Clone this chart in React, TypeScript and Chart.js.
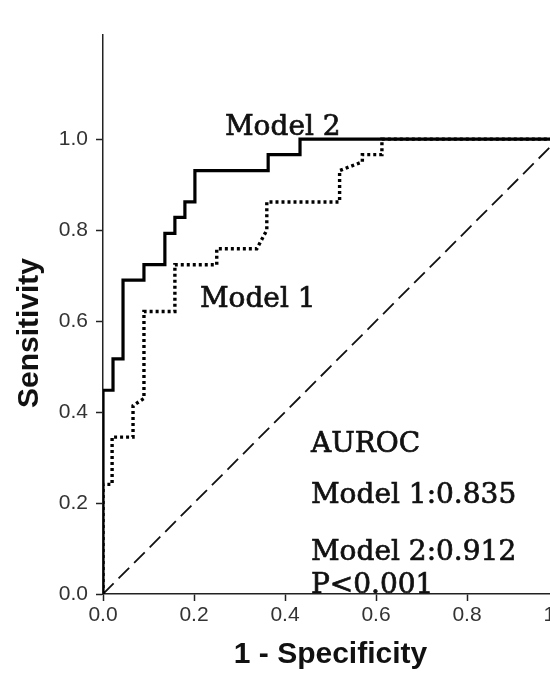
import React, { useEffect, useRef } from "react";
import { Chart, registerables } from "chart.js";

Chart.register(...registerables);

// ROC curve vertices (1 - specificity, sensitivity)
const MODEL1_FPR = [0, 0, 0.02, 0.02, 0.066, 0.066, 0.09, 0.09, 0.158, 0.158, 0.25, 0.25, 0.338, 0.36, 0.36, 0.52, 0.52, 0.57, 0.57, 0.613, 0.613, 1];
const MODEL1_TPR = [0, 0.241, 0.241, 0.345, 0.345, 0.414, 0.43, 0.621, 0.621, 0.724, 0.724, 0.759, 0.759, 0.8, 0.862, 0.862, 0.931, 0.95, 0.966, 0.966, 1, 1];

const MODEL2_FPR = [0, 0, 0.022, 0.022, 0.044, 0.044, 0.09, 0.09, 0.136, 0.136, 0.158, 0.158, 0.18, 0.18, 0.202, 0.202, 0.363, 0.363, 0.433, 0.433, 1];
const MODEL2_TPR = [0, 0.448, 0.448, 0.517, 0.517, 0.69, 0.69, 0.724, 0.724, 0.793, 0.793, 0.828, 0.828, 0.862, 0.862, 0.931, 0.931, 0.966, 0.966, 1, 1];

const DIAG_X = [0, 1];
const DIAG_Y = [0, 1];

const X_TICKS = [0, 0.2, 0.4, 0.6, 0.8, 1.0];
const Y_TICKS = [0, 0.2, 0.4, 0.6, 0.8, 1.0];

const X_TITLE = "1 - Specificity";
const Y_TITLE = "Sensitivity";

// Text annotations (anchored in data coordinates, left/baseline)
const NOTES = [
  { text: "Model 2", x: 0.268, y: 1.009, size: 28 },
  { text: "Model 1", x: 0.213, y: 0.631, size: 28 },
  { text: "AUROC", x: 0.457, y: 0.312, size: 28 },
  { text: "Model 1:0.835", x: 0.457, y: 0.2, size: 28 },
  { text: "Model 2:0.912", x: 0.457, y: 0.0747, size: 28 },
  { text: "P<0.001", x: 0.457, y: 0.002, size: 28 },
];

const toPoints = (xs: number[], ys: number[]) => xs.map((x, i) => ({ x, y: ys[i] }));

export default function App() {
  const ref = useRef<HTMLCanvasElement>(null);

  useEffect(() => {
    const canvas = ref.current;
    if (!canvas) return;

    const textPlugin = {
      id: "rocText",
      afterDraw(chart: any) {
        const ctx = chart.ctx as CanvasRenderingContext2D;
        const xs = chart.scales.x;
        const ys = chart.scales.y;
        ctx.save();
        ctx.fillStyle = "#111";
        ctx.strokeStyle = "#111";
        ctx.lineWidth = 0.7;
        ctx.textAlign = "left";
        ctx.textBaseline = "alphabetic";
        for (const n of NOTES) {
          ctx.font = `${n.size}px "DejaVu Serif"`;
          const px = xs.getPixelForValue(n.x);
          const py = ys.getPixelForValue(n.y);
          ctx.fillText(n.text, px, py);
          ctx.strokeText(n.text, px, py);
        }
        ctx.restore();

        ctx.save();
        ctx.fillStyle = "#111";
        ctx.translate(30, 333);
        ctx.rotate(-Math.PI / 2);
        ctx.font = 'bold 30px "Liberation Sans"';
        ctx.textAlign = "center";
        ctx.textBaseline = "middle";
        ctx.fillText(Y_TITLE, 0, 0);
        ctx.restore();
      },
    };

    const chart = new Chart(canvas, {
      type: "line",
      data: {
        datasets: [
          {
            label: "Reference",
            data: toPoints(DIAG_X, DIAG_Y),
            borderColor: "#111",
            borderWidth: 1.8,
            borderDash: [15, 7],
            pointRadius: 0,
            order: 3,
          },
          {
            label: "Model 2",
            data: toPoints(MODEL2_FPR, MODEL2_TPR),
            borderColor: "#000",
            borderWidth: 3.2,
            borderJoinStyle: "miter",
            pointRadius: 0,
            order: 2,
          },
          {
            label: "Model 1",
            data: toPoints(MODEL1_FPR, MODEL1_TPR),
            borderColor: "#000",
            borderWidth: 3.4,
            borderDash: [3, 3],
            borderCapStyle: "butt",
            borderJoinStyle: "miter",
            pointRadius: 0,
            order: 1,
          },
        ],
      },
      options: {
        responsive: false,
        animation: false,
        devicePixelRatio: 1,
        events: [],
        layout: { padding: { left: 0, top: 35, right: 42, bottom: 0 } },
        plugins: {
          legend: { display: false },
          tooltip: { enabled: false },
        },
        elements: { line: { tension: 0 } },
        scales: {
          x: {
            type: "linear",
            min: 0,
            max: 1,
            afterBuildTicks: (s: any) => {
              s.ticks = X_TICKS.map((v) => ({ value: v }));
            },
            afterFit: (s: any) => {
              s.height = 102;
            },
            ticks: {
              callback: (v: any) => Number(v).toFixed(1),
              font: { family: '"Liberation Sans"', size: 21 },
              color: "#333",
              padding: 2,
              maxRotation: 0,
            },
            grid: {
              display: true,
              drawOnChartArea: false,
              drawTicks: true,
              tickLength: 7,
              tickWidth: 1.5,
              tickColor: "#222",
            },
            border: { display: true, color: "#222", width: 1.5 },
            title: {
              display: true,
              text: X_TITLE,
              font: { family: '"Liberation Sans"', size: 30, weight: "bold" },
              color: "#111",
              padding: { top: 0, bottom: 23 },
            },
          },
          y: {
            type: "linear",
            min: 0,
            max: 1.229,
            afterBuildTicks: (s: any) => {
              s.ticks = Y_TICKS.map((v) => ({ value: v }));
            },
            afterFit: (s: any) => {
              s.width = 103;
            },
            ticks: {
              callback: (v: any) => Number(v).toFixed(1),
              font: { family: '"Liberation Sans"', size: 21 },
              color: "#333",
              padding: 8,
            },
            grid: {
              display: true,
              drawOnChartArea: false,
              drawTicks: true,
              tickLength: 7,
              tickWidth: 1.5,
              tickColor: "#222",
            },
            border: { display: true, color: "#222", width: 1.5 },
          },
        },
      },
      plugins: [textPlugin],
    } as any);

    return () => chart.destroy();
  }, []);

  return (
    <div
      style={{
        position: "absolute",
        left: 0,
        top: 0,
        width: 550,
        height: 696,
        overflow: "hidden",
        background: "#fff",
      }}
    >
      <canvas
        ref={ref}
        width={600}
        height={696}
        style={{ width: "600px", height: "696px", display: "block" }}
      />
    </div>
  );
}
